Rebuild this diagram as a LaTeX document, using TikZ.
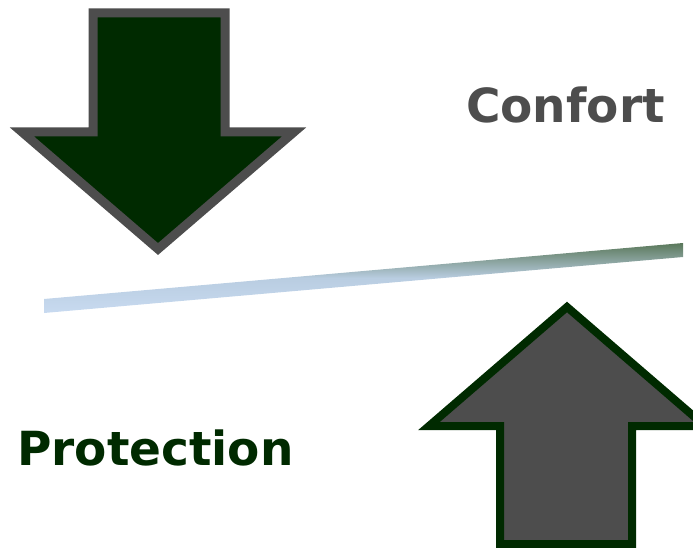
\documentclass[tikz,border=0pt]{standalone}
\usepackage{fontspec}
\setmainfont{DejaVu Sans}
\definecolor{dkgreen}{RGB}{0,42,0}
\definecolor{dkgray}{RGB}{77,77,77}
\definecolor{barTop}{RGB}{90,120,90}
\definecolor{barMid}{RGB}{185,205,225}
\definecolor{barBot}{RGB}{200,218,240}
\tikzset{
  downarrow/.style={fill=dkgreen, draw=dkgray, line width=9pt, line join=miter},
  uparrow/.style={fill=dkgray, draw=dkgreen, line width=8pt, line join=miter},
  lbl/.style={anchor=base west, inner sep=0pt, font=\bfseries\fontsize{47}{50}\selectfont},
}
\begin{document}
\begin{tikzpicture}[x=1pt,y=-1pt]
\useasboundingbox (0,0) rectangle (693,548);
\clip (0,0) rectangle (693,548);
% down arrow
\draw[downarrow] (93,13) -- (225,13) -- (225,132) -- (294,132) -- (158,249) -- (22,132) -- (93,132) -- cycle;
% up arrow
\draw[uparrow] (500,544) -- (632,544) -- (632,426) -- (705,426) -- (567,307) -- (429,426) -- (500,426) -- cycle;
% bar
\path[top color=barTop, bottom color=barBot, middle color=barMid]
  (44,299) -- (683,243) -- (683,257) -- (44,313) -- cycle;
% labels
\node[lbl, text=dkgray] (confort) at (466,123) {Confort};
\node[lbl, text=dkgreen] (protection) at (17,465) {Protection};
\end{tikzpicture}
\end{document}
